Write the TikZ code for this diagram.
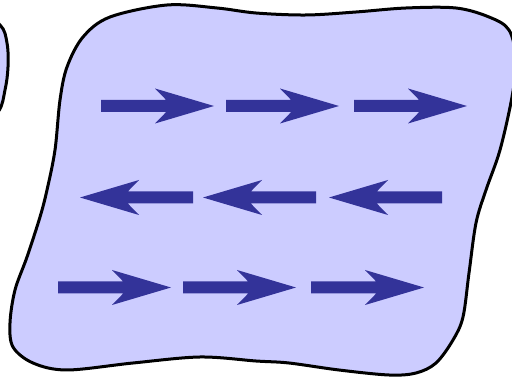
\documentclass[tikz,border=0pt]{standalone}
\definecolor{shapefill}{HTML}{CCCCFF}
\definecolor{arrowblue}{HTML}{333399}
\tikzset{
  blob/.style={fill=shapefill, draw=black, line width=3pt, line join=round},
  fatarrow/.pic={\fill[arrowblue] (0,-6) -- (65.2,-6) -- (54,-17.5) -- (113,0) -- (54,17.5) -- (65.2,6) -- (0,6) -- cycle;}
}
\begin{document}
\begin{tikzpicture}[x=1pt,y=-1pt]
\useasboundingbox (0,0) rectangle (512,379);
\clip (0,0) rectangle (512,379);
% partial shape at left edge
\draw[blob] plot[smooth cycle, tension=0.6] coordinates {(-25,12) (0,25) (7,43) (8,67) (5,90) (-2,112) (-25,128)};
% main shape
\draw[blob] plot[smooth cycle, tension=0.55] coordinates {
 (512,97) (500,150) (486,190) (476,223) (469,273) (463,317) (453,340) (436,363) (416,373)
 (389,375) (339,370) (289,363) (256,361) (200,357) (133,363) (67,370) (33,363) (13,347)
 (10,323) (15,290) (27,257) (40,217) (47,190) (55,150) (60,100) (67,67) (83,37) (110,17)
 (167,5) (217,8) (256,13) (306,15) (356,12) (406,8) (456,8) (489,17) (509,30) (516,60)};
% row 1
\pic at (101,106) {fatarrow};
\pic at (226,106) {fatarrow};
\pic at (354,106) {fatarrow};
% row 2
\pic[rotate=180] at (193,197.5) {fatarrow};
\pic[rotate=180] at (316,197.5) {fatarrow};
\pic[rotate=180] at (442,197.5) {fatarrow};
% row 3
\pic at (58,287.5) {fatarrow};
\pic at (183,287.5) {fatarrow};
\pic at (311,287.5) {fatarrow};
\end{tikzpicture}
\end{document}
